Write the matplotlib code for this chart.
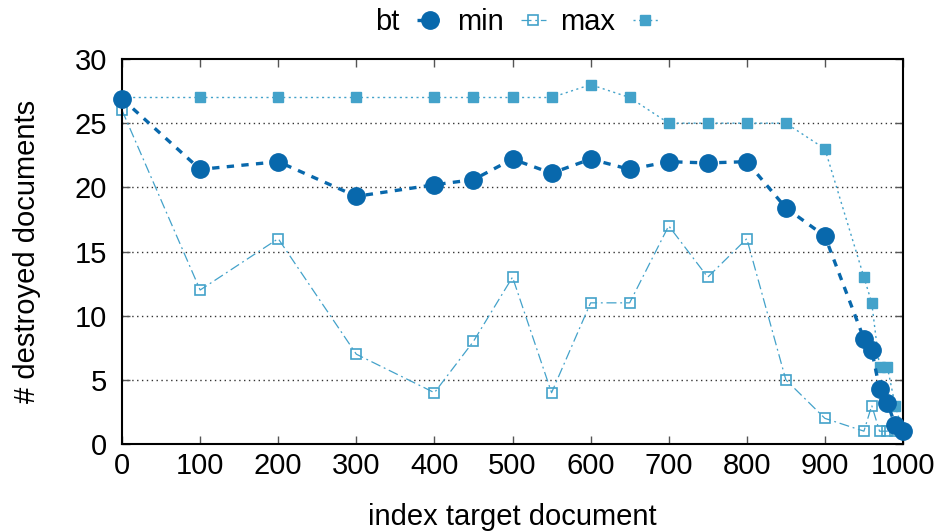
import matplotlib
matplotlib.use("Agg")
import matplotlib.pyplot as plt

plt.rcParams['font.family'] = ['Liberation Sans', 'DejaVu Sans']
plt.rcParams['font.size'] = 21

# index of the target document
x_idx = [0, 100, 200, 300, 400, 450, 500, 550, 600, 650, 700, 750, 800,
         850, 900, 950, 960, 970, 980, 990, 1000]

bt_vals = [26.9, 21.4, 22.0, 19.3, 20.2, 20.6, 22.2, 21.1, 22.2, 21.4, 22.0, 21.9, 22.0,
           18.4, 16.2, 8.2, 7.3, 4.3, 3.2, 1.5, 1.0]
min_vals = [26, 12, 16, 7, 4, 8, 13, 4, 11, 11, 17, 13, 16,
            5, 2, 1, 3, 1, 1, 1, 1]
max_vals = [27, 27, 27, 27, 27, 27, 27, 27, 28, 27, 25, 25, 25,
            25, 23, 13, 11, 6, 6, 3, 1]

dark = '#0868ac'
light = '#43a2ca'

fig = plt.figure(figsize=(9.41, 5.31), dpi=100)
ax = fig.add_axes([0.1297, 0.1638, 0.8299, 0.7251])

# horizontal grid
for yv in [5, 10, 15, 20, 25]:
    ax.axhline(yv, color='#333333', lw=1.0, ls=(0, (1, 2.5)), zorder=0)

l_bt, = ax.plot(x_idx, bt_vals, color=dark, lw=2.4, ls=(0, (2.2, 2.2)),
                marker='o', ms=12.5, clip_on=False, zorder=3, label='bt')
l_min, = ax.plot(x_idx, min_vals, color=light, lw=0.9, ls=(0, (8, 3, 1.5, 3)),
                 marker='s', ms=6.5, mfc='none', mew=1.2, clip_on=False, zorder=2, label='min')
l_max, = ax.plot(x_idx, max_vals, color=light, lw=1.0, ls=(0, (1.5, 2.5)),
                 marker='s', ms=7.5, clip_on=False, zorder=2, label='max')

ax.set_xlim(0, 1000)
ax.set_ylim(0, 30)
ax.set_xticks(range(0, 1001, 100))
ax.set_yticks(range(0, 31, 5))
ax.tick_params(direction='in', top=True, right=True, length=6, width=1,
               color='#555555', pad=6)
ax.tick_params(axis='y', pad=11)
for s in ax.spines.values():
    s.set_linewidth(1.5)

ax.set_xlabel('index target document', labelpad=16)
ax.set_ylabel('# destroyed documents', labelpad=24)

ax.legend(handles=[l_bt, l_min, l_max], loc='lower center', bbox_to_anchor=(0.505, 1.0),
          ncol=3, frameon=False, markerfirst=False, handlelength=0.85,
          handletextpad=0.6, columnspacing=0.5, borderaxespad=0.38)

fig.savefig('out.png', dpi=100)
